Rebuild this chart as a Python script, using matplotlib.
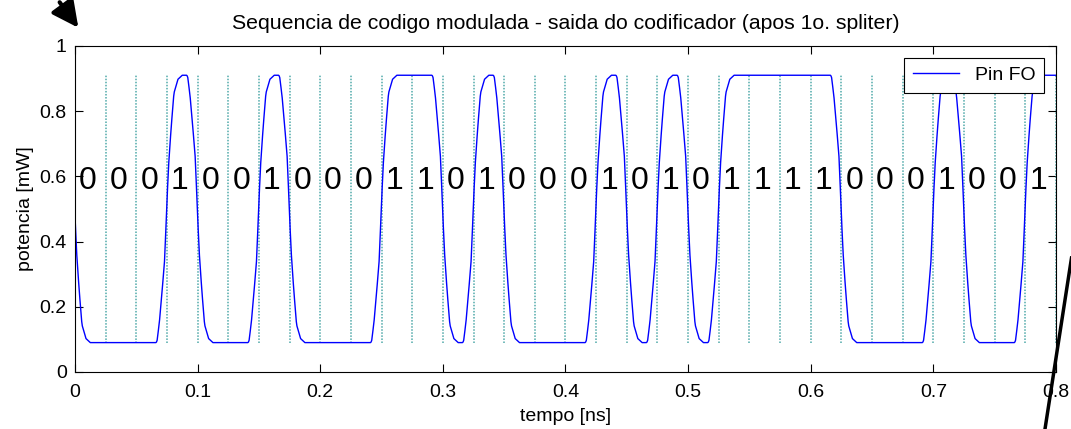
"""
Sequencia de codigo modulada - saida do codificador.
"""

import numpy as np
import matplotlib
matplotlib.use("Agg")
import matplotlib.pyplot as plt
from matplotlib.lines import Line2D
from matplotlib.patches import FancyArrowPatch

plt.rcParams['font.family'] = ['Liberation Sans', 'DejaVu Sans']

# bit sequence (one bit per 0.025 ns)
bits = [0, 0, 0, 1, 0, 0, 1, 0, 0, 0, 1, 1, 0, 1, 0, 0,
        0, 1, 0, 1, 0, 1, 1, 1, 1, 0, 0, 0, 1, 0, 0, 1]
t_bit = 0.025
p_low = 0.09
p_high = 0.91

# rising edge of one pulse
# (offset from the bit boundary [ns], normalized level)
edge_t = [-0.0087, -0.0079, -0.0060, -0.0041, -0.0019, -0.0008, 0.0003, 0.0016,
          0.0035, 0.0057, 0.0090, 0.0125]
edge_v = [0.0, 0.01, 0.085, 0.184, 0.309, 0.434, 0.559, 0.683,
          0.808, 0.933, 0.985, 1.0]

# the sequence repeats, so the level before t=0 is the last bit
t = np.linspace(0, len(bits) * t_bit, 1601)
u = np.full_like(t, float(bits[-1]))
prev = bits[-1]
for k, b in enumerate(bits):
    if b != prev:
        u += (b - prev) * np.interp(t - k * t_bit, edge_t, edge_v, left=0, right=1)
    prev = b
pin = p_low + (p_high - p_low) * u

fig = plt.figure(figsize=(10.71, 4.29), dpi=100)
ax = fig.add_axes([0.070, 0.133, 0.916, 0.760])

for k in range(1, len(bits) + 1):
    ax.plot([k * t_bit, k * t_bit], [p_low, p_high], ls=(0, (1, 1)), color="#4fa9a9", lw=1.1)

ax.plot(t, pin, color="b", lw=1.0, label="Pin FO")

for k, b in enumerate(bits):
    ax.text(k * t_bit + 0.0105, 0.585, str(b), fontsize=23, ha="center", va="center")

ax.set_xlim(0, 0.8)
ax.set_ylim(0, 1)
ax.set_xticks(np.arange(0, 0.81, 0.1))
ax.set_yticks(np.arange(0, 1.01, 0.2))
ax.set_xticklabels(["0", "0.1", "0.2", "0.3", "0.4", "0.5", "0.6", "0.7", "0.8"])
ax.set_yticklabels(["0", "0.2", "0.4", "0.6", "0.8", "1"])
ax.tick_params(direction="in", top=True, right=True, length=6, width=0.8,
               labelsize=14)
ax.tick_params(axis="x", pad=9)
ax.tick_params(axis="y", pad=6)
ax.set_xlabel("tempo [ns]", fontsize=14, labelpad=5)
ax.set_ylabel("potencia [mW]", fontsize=14, labelpad=4)
ax.set_title("Sequencia de codigo modulada - saida do codificador (apos 1o. spliter)",
             fontsize=15.3, pad=12)
leg = ax.legend(loc="upper right", fancybox=False, edgecolor="k", framealpha=1,
                fontsize=14, handlelength=2.4, borderaxespad=0.6, borderpad=0.45)
leg.get_frame().set_linewidth(0.8)

# hand drawn marks on the figure
fig.patches.append(FancyArrowPatch((58 / 1071, 1.0), (80 / 1071, 1 - 30 / 429),
                                   arrowstyle="-|>", mutation_scale=40, lw=3,
                                   color="k", transform=fig.transFigure, figure=fig))
fig.add_artist(Line2D([1071.5 / 1071, 1045 / 1071], [1 - 258 / 429, 0.0], color="k", lw=2.5,
                      transform=fig.transFigure))

fig.savefig("out.png", dpi=100)
